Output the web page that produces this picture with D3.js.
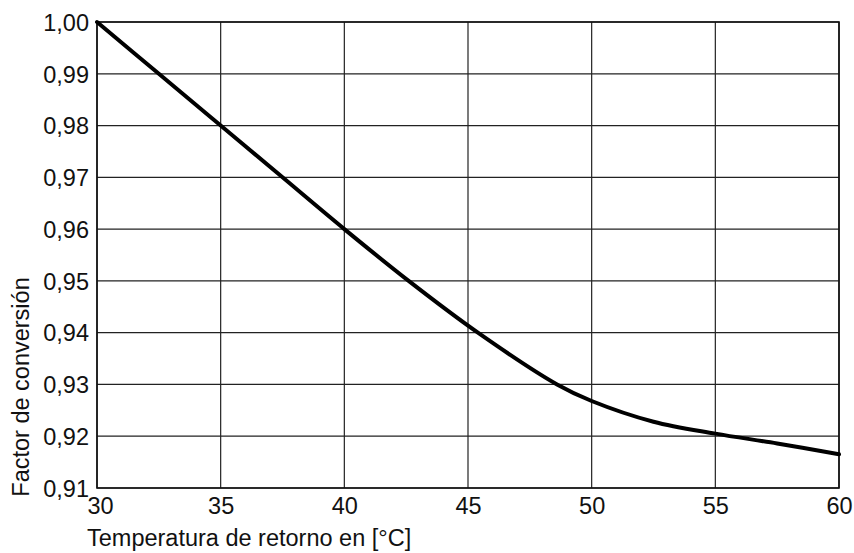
<!DOCTYPE html>
<html>
<head>
<meta charset="utf-8">
<script src="https://cdn.jsdelivr.net/npm/d3@7"></script>
<style>
  body { margin: 0; background: #fff; }
  text { font-family: "Liberation Sans", Arial, sans-serif; fill: #111; }
</style>
</head>
<body>
<div id="chart"></div>
<script>
// values
const temps = [30, 32.5, 35, 37.5, 40, 42.6, 45.4, 48.6, 50, 52.5, 55, 57.5, 60];
const factors = [1.000, 0.990, 0.980, 0.970, 0.960, 0.950, 0.940, 0.930, 0.9268, 0.9228, 0.9205, 0.9186, 0.9165];
const xTicks = [30, 35, 40, 45, 50, 55, 60];
const yTicks = [0.91, 0.92, 0.93, 0.94, 0.95, 0.96, 0.97, 0.98, 0.99, 1.00];

const width = 854;
const height = 553;
const margin = {left: 97, right: 15, top: 22, bottom: 65};
const fontSize = "23.5px";

const xScale = d3.scaleLinear().domain([30, 60]).range([margin.left, width - margin.right]);
const yScale = d3.scaleLinear().domain([0.91, 1.00]).range([height - margin.bottom, margin.top]);

const svg = d3.select("#chart")
  .append("svg")
  .attr("width", width)
  .attr("height", height);

const fmt = d => d3.format(".2f")(d).replace(".", ",");

// grid lines
svg.append("g")
  .selectAll("line")
  .data(xTicks)
  .enter()
  .append("line")
    .attr("x1", d => xScale(d)).attr("x2", d => xScale(d))
    .attr("y1", yScale(1.00)).attr("y2", yScale(0.91))
    .attr("stroke", "#222").attr("stroke-width", 1.2);

svg.append("g")
  .selectAll("line")
  .data(yTicks)
  .enter()
  .append("line")
    .attr("x1", xScale(30)).attr("x2", xScale(60))
    .attr("y1", d => yScale(d)).attr("y2", d => yScale(d))
    .attr("stroke", "#222").attr("stroke-width", 1.2);

// frame
svg.append("rect")
  .attr("x", xScale(30))
  .attr("y", yScale(1.00))
  .attr("width", xScale(60) - xScale(30))
  .attr("height", yScale(0.91) - yScale(1.00))
  .attr("fill", "none")
  .attr("stroke", "#111")
  .attr("stroke-width", 1.6);

// y axis labels
const yAxis = svg.append("g")
  .attr("transform", `translate(${margin.left - 8}, 0)`)
  .call(d3.axisLeft(yScale).tickValues(yTicks).tickFormat(fmt).tickSize(0).tickPadding(0));
yAxis.select(".domain").remove();
yAxis.selectAll("text").attr("font-size", fontSize).attr("dy", "0.35em").attr("fill", "#111");

// x axis labels
const xAxis = svg.append("g")
  .attr("transform", `translate(0, ${height - margin.bottom + 9})`)
  .call(d3.axisBottom(xScale).tickValues(xTicks).tickSize(0).tickPadding(0));
xAxis.select(".domain").remove();
xAxis.selectAll("text").attr("font-size", fontSize).attr("dy", "0.71em").attr("fill", "#111");
xAxis.selectAll("text").filter(d => d === 30).attr("dx", "3px");

// axis titles
svg.append("text")
  .attr("x", 87)
  .attr("y", 546)
  .attr("font-size", fontSize)
  .text("Temperatura de retorno en [°C]");

svg.append("text")
  .attr("transform", "translate(29, 387) rotate(-90)")
  .attr("text-anchor", "middle")
  .attr("font-size", fontSize)
  .text("Factor de conversión");

// curve
const line = d3.line()
  .x((d, i) => xScale(temps[i]))
  .y(d => yScale(d))
  .curve(d3.curveCatmullRom.alpha(0.5));

svg.append("path")
  .datum(factors)
  .attr("d", line)
  .attr("fill", "none")
  .attr("stroke", "#000")
  .attr("stroke-width", 4)
  .attr("stroke-linecap", "round");
</script>
</body>
</html>
